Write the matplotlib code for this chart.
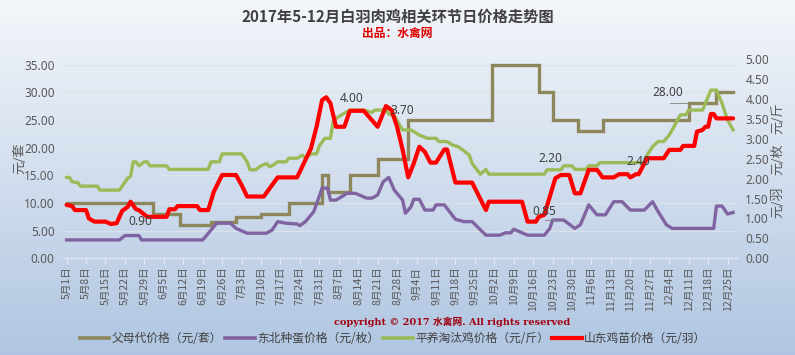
import numpy as np
import matplotlib
matplotlib.use('Agg')
import matplotlib.pyplot as plt
from matplotlib.lines import Line2D

plt.rcParams['font.family'] = ['Noto Sans CJK SC', 'DejaVu Sans']

# ---------------- data (x = days since 5月1日) ----------------
tick_labels = ["5月1日", "5月8日", "5月15日", "5月22日", "5月29日", "6月5日", "6月12日",
               "6月19日", "6月26日", "7月3日", "7月10日", "7月17日", "7月24日", "7月31日",
               "8月7日", "8月14日", "8月21日", "8月28日", "9月4日", "9月11日", "9月18日",
               "9月25日", "10月2日", "10月9日", "10月16日", "10月23日", "10月30日", "11月6日",
               "11月13日", "11月20日", "11月27日", "12月4日", "12月11日", "12月18日", "12月25日"]
tick_days = [7 * i for i in range(len(tick_labels))]

# 父母代价格 (元/套) - step changes
olive_day = [0, 31, 41, 52, 61, 70, 80, 92, 94, 102, 112, 123, 153, 170, 175, 184, 193, 224, 234, 240]
olive_val = [10, 8, 6, 6.5, 7.5, 8, 10, 15, 12, 15, 18, 25, 35, 30, 25, 23, 25, 28, 30, 30]

# 东北种蛋价格 (元/枚)
purple_day = [0, 19, 21, 26, 27, 49, 50, 54, 59, 61, 65, 72, 74, 76, 79, 83, 84, 86, 89, 92, 94, 95,
              97, 101, 104, 108, 110, 112, 114, 116, 118, 121, 122, 124, 125, 127, 129, 132, 133, 136,
              140, 143, 146, 151, 156, 158, 160, 161, 166, 172, 174, 175, 179, 183, 185, 188, 191, 194,
              197, 200, 203, 208, 211, 213, 216, 218, 233, 234, 236, 238, 240]
purple_val = [0.46, 0.46, 0.57, 0.57, 0.46, 0.46, 0.54, 0.88, 0.88, 0.75, 0.63, 0.63, 0.71, 0.92, 0.88,
              0.86, 0.82, 0.92, 1.17, 1.76, 1.76, 1.46, 1.46, 1.63, 1.63, 1.51, 1.51, 1.59, 1.92, 2.03,
              1.71, 1.46, 1.13, 1.29, 1.48, 1.48, 1.21, 1.21, 1.34, 1.34, 0.98, 0.92, 0.92, 0.58, 0.58,
              0.64, 0.64, 0.73, 0.58, 0.58, 0.75, 0.96, 0.96, 0.75, 0.84, 1.34, 1.09, 1.09, 1.42, 1.42,
              1.21, 1.21, 1.42, 1.17, 0.84, 0.75, 0.75, 1.31, 1.31, 1.11, 1.15]

# 平养淘汰鸡价格 (元/斤)
green_day = [0, 1, 2, 4, 5, 11, 12, 19, 22, 23, 24, 25, 26, 28, 29, 30, 36, 37, 51, 52, 55, 56, 63, 65,
             66, 68, 70, 72, 73, 74, 76, 79, 80, 83, 85, 86, 88, 90, 91, 93, 95, 96, 97, 100, 102, 107,
             110, 111, 115, 116, 118, 121, 124, 125, 127, 130, 133, 134, 137, 139, 141, 143, 145, 146,
             149, 151, 152, 172, 173, 178, 179, 182, 183, 187, 188, 191, 192, 208, 209, 211, 213, 215,
             217, 219, 221, 223, 224, 229, 230, 232, 234, 236, 238, 240]
green_val = [2.03, 2.03, 1.92, 1.90, 1.81, 1.81, 1.71, 1.71, 2.01, 2.05, 2.42, 2.42, 2.32, 2.42, 2.42,
             2.32, 2.32, 2.23, 2.23, 2.42, 2.42, 2.62, 2.62, 2.42, 2.22, 2.22, 2.32, 2.38, 2.30, 2.32,
             2.42, 2.42, 2.51, 2.51, 2.59, 2.51, 2.62, 2.62, 2.82, 3.01, 3.01, 3.43, 3.51, 3.64, 3.72,
             3.72, 3.66, 3.72, 3.72, 3.62, 3.57, 3.22, 3.22, 3.18, 3.09, 3.01, 3.01, 2.93, 2.93, 2.84,
             2.80, 2.70, 2.59, 2.38, 2.11, 2.23, 2.11, 2.11, 2.22, 2.22, 2.32, 2.32, 2.23, 2.23, 2.32,
             2.32, 2.40, 2.40, 2.59, 2.80, 2.93, 2.93, 3.09, 3.34, 3.60, 3.60, 3.72, 3.72, 3.89, 4.22,
             4.22, 3.89, 3.47, 3.22]

# 山东鸡苗价格 (元/羽)
red_day = [0, 2, 3, 7, 8, 10, 14, 16, 18, 20, 22, 23, 25, 26, 29, 36, 37, 39, 40, 47, 48, 51, 53, 56,
           61, 63, 65, 71, 76, 83, 88, 90, 92, 93.5, 95, 97, 100, 102, 107, 112, 113, 115, 117, 119,
           121, 123, 125, 127, 129, 131, 133, 136, 137, 140, 146, 151, 152, 164, 166, 169, 170, 172,
           174, 176, 178, 181, 183, 185, 188, 191, 193, 197, 199, 202, 203, 205, 206, 209, 215, 217,
           221, 222, 226, 227, 229, 230, 231, 232, 233, 234, 240]
red_val = [1.34, 1.31, 1.21, 1.21, 1.00, 0.92, 0.92, 0.86, 0.88, 1.19, 1.29, 1.42, 1.23, 1.21, 1.04,
           1.04, 1.23, 1.23, 1.31, 1.31, 1.21, 1.21, 1.67, 2.09, 2.09, 1.84, 1.55, 1.55, 2.03, 2.03,
           2.76, 3.30, 3.97, 4.04, 3.89, 3.30, 3.30, 3.70, 3.70, 3.30, 3.47, 3.82, 3.72, 3.30, 2.72,
           2.03, 2.38, 2.80, 2.67, 2.40, 2.40, 2.73, 2.73, 1.90, 1.90, 1.21, 1.42, 1.42, 0.92, 0.92,
           1.04, 1.09, 1.55, 2.01, 2.09, 2.09, 1.63, 1.63, 2.22, 2.22, 2.03, 2.03, 2.11, 2.11, 2.03,
           2.11, 2.11, 2.51, 2.51, 2.72, 2.72, 2.82, 2.82, 3.18, 3.22, 3.30, 3.30, 3.62, 3.62, 3.51,
           3.51]

series_names = ["父母代价格（元/套）", "东北种蛋价格（元/枚）", "平养淘汰鸡价格（元/斤）", "山东鸡苗价格（元/羽）"]
label_texts = ["0.90", "4.00", "3.70", "2.20", "0.85", "2.40", "28.00"]

# ---------------- layout / style ----------------
C_OLIVE = '#8E875C'
C_PURPLE = '#8064A2'
C_GREEN = '#9BBB59'
C_RED = '#FF0000'
C_TXT = '#595959'

W, H = 795, 355
fig = plt.figure(figsize=(W / 100, H / 100), dpi=100)

# gradient background
bg = fig.add_axes([0, 0, 1, 1], zorder=-10)
g = np.linspace(0, 1, 256)[:, None, None]
top = np.array([0.955, 0.965, 0.98])
bot = np.array([0.69, 0.775, 0.885])
img = top * (1 - g) + bot * g
bg.imshow(img, aspect='auto', extent=[0, 1, 0, 1], origin='upper')
bg.set_xlim(0, 1); bg.set_ylim(0, 1)
bg.axis('off')

L, R, T, B = 63, 737, 59, 258.3
ax = fig.add_axes([L / W, 1 - B / H, (R - L) / W, (B - T) / H])
ax.patch.set_alpha(0)
ax2 = ax.twinx()

ax.plot(olive_day, olive_val, color=C_OLIVE, lw=2.4, drawstyle='steps-post', solid_joinstyle='miter')
ax2.plot(purple_day, purple_val, color=C_PURPLE, lw=2.4, solid_joinstyle='round')
ax2.plot(green_day, green_val, color=C_GREEN, lw=2.4, solid_joinstyle='round')
ax2.plot(red_day, red_val, color=C_RED, lw=3.0, solid_joinstyle='round', solid_capstyle='round')

ax.set_xlim(-1.3, 241.4)
ax.set_ylim(0, 36)
ax2.set_ylim(0, 5)
ax.set_yticks(np.arange(0, 36, 5))
ax.set_yticklabels([f"{v:.2f}" for v in np.arange(0, 36, 5)])
ax2.set_yticks(np.arange(0, 5.01, 0.5))
ax2.set_yticklabels([f"{v:.2f}" for v in np.arange(0, 5.01, 0.5)])
ax.set_xticks(tick_days)
ax.set_xticklabels(tick_labels, rotation=90, fontsize=7.6, color=C_TXT)

ax.yaxis.grid(True, color='#DCE2EA', lw=0.9)
ax.set_axisbelow(True)
for a in (ax, ax2):
    for s in a.spines.values():
        s.set_visible(False)
ax.spines['bottom'].set_visible(True)
ax.spines['bottom'].set_color('#E4E8EE')
ax.tick_params(axis='x', length=4, color='#E4E8EE', pad=2)
ax.tick_params(axis='y', length=0, pad=6, labelsize=8.5, labelcolor=C_TXT)
ax2.tick_params(axis='y', length=0, pad=6, labelsize=8.5, labelcolor=C_TXT)
for lab in ax.get_yticklabels() + ax2.get_yticklabels():
    lab.set_family(['Noto Sans', 'DejaVu Sans'])

# axis titles
fig.text(20 / W, 1 - 158 / H, "元/套", rotation=90, ha='center', va='center', fontsize=9.5, color=C_TXT)
for txt, yy in [("元/斤", 118), ("元/枚", 159), ("元/羽", 202)]:
    fig.text(778 / W, 1 - yy / H, txt, rotation=90, ha='center', va='center', fontsize=9.5, color=C_TXT)

# data labels
def px2day(x):
    return (x - 66.7) / 2.777

def py2r(y):
    return (B - y) / 39.86

label_pos = [(140, 222), (352, 99), (402, 111), (550, 159), (544, 212), (638, 162), (668, 93)]
for txt, (px, py) in zip(label_texts, label_pos):
    ax2.text(px2day(px), py2r(py), txt, ha='center', va='center', fontsize=8.5,
             color='#404040', family=['Noto Sans', 'DejaVu Sans'])
ax2.plot([px2day(545), px2day(561)], [py2r(220), py2r(220)], color='#7F7F7F', lw=0.6)
ax2.plot([px2day(670), px2day(690)], [py2r(102.7), py2r(102.7)], color='#7F7F7F', lw=0.6)

# title
fig.text(0.5, 1 - 17 / H, "2017年5-12月白羽肉鸡相关环节日价格走势图", ha='center', va='center',
         fontsize=11, fontweight='bold', color='#404040')
fig.text(0.5, 1 - 33 / H, "出品：水禽网", ha='center', va='center', fontsize=8.5,
         fontweight='bold', color='#E00000')

# copyright
fig.text(452 / W, 1 - 322 / H, "copyright © 2017 水禽网. All rights reserved", ha='center', va='center',
         fontsize=7, fontweight='bold', color='#A00010', family=['DejaVu Serif', 'Noto Sans CJK SC'])

# legend
handles = [Line2D([], [], color=c, lw=w) for c, w in
           [(C_OLIVE, 2.6), (C_PURPLE, 2.6), (C_GREEN, 2.6), (C_RED, 3.0)]]
leg = fig.legend(handles, series_names, loc='center', bbox_to_anchor=(393 / W, 1 - 339 / H), ncol=4,
                 frameon=False, fontsize=8.5, handlelength=2.5, handletextpad=0.2, columnspacing=0.3)
for t in leg.get_texts():
    t.set_color('#404040')

fig.savefig('out.png', dpi=100)
